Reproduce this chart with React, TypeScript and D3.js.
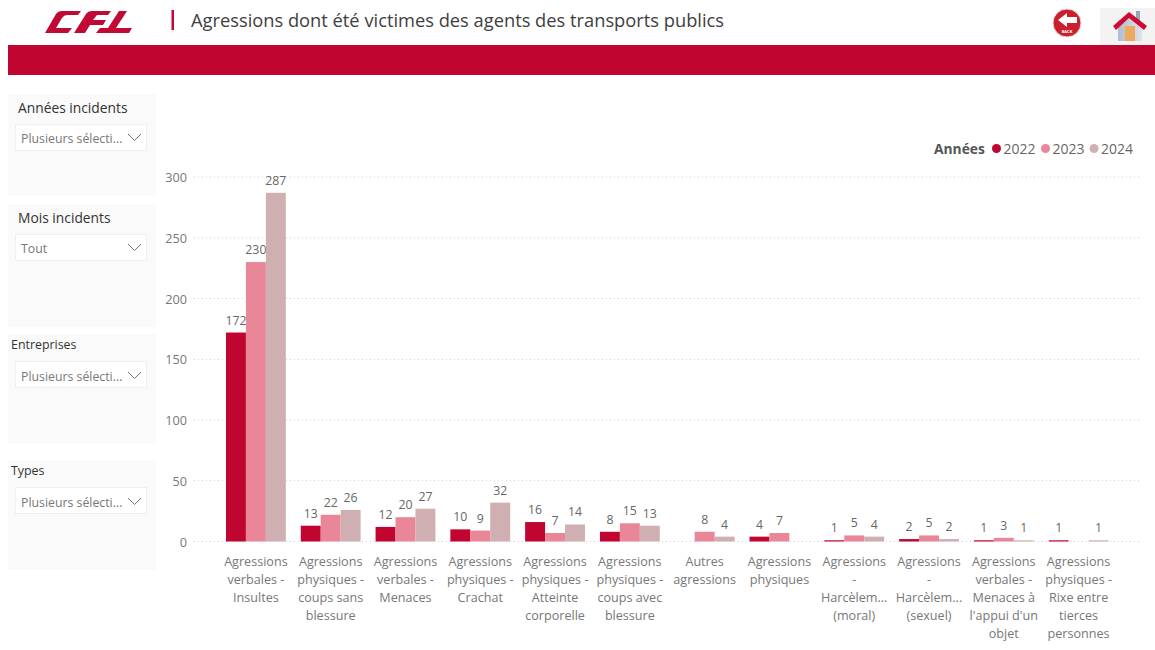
import React from 'react';
import * as d3 from 'd3';

const categories = [
  ['Agressions', 'verbales -', 'Insultes'],
  ['Agressions', 'physiques -', 'coups sans', 'blessure'],
  ['Agressions', 'verbales -', 'Menaces'],
  ['Agressions', 'physiques -', 'Crachat'],
  ['Agressions', 'physiques -', 'Atteinte', 'corporelle'],
  ['Agressions', 'physiques -', 'coups avec', 'blessure'],
  ['Autres', 'agressions'],
  ['Agressions', 'physiques'],
  ['Agressions', '-', 'Harcèlem...', '(moral)'],
  ['Agressions', '-', 'Harcèlem...', '(sexuel)'],
  ['Agressions', 'verbales -', 'Menaces à', "l'appui d'un", 'objet'],
  ['Agressions', 'physiques -', 'Rixe entre', 'tierces', 'personnes'],
];
const years = ['2022', '2023', '2024'];
const values2022 = [172, 13, 12, 10, 16, 8, null, 4, 1, 2, 1, 1];
const values2023 = [230, 22, 20, 9, 7, 15, 8, 7, 5, 5, 3, null];
const values2024 = [287, 26, 27, 32, 14, 13, 4, null, 4, 2, 1, 1];
const colors = ['#c00531', '#e98799', '#d0afb3'];
const yTicks = [0, 50, 100, 150, 200, 250, 300];
const slicers = [
  { title: 'Années incidents', value: 'Plusieurs sélecti...', y: 94, h: 102, big: true },
  { title: 'Mois incidents', value: 'Tout', y: 204, h: 123, big: true },
  { title: 'Entreprises', value: 'Plusieurs sélecti...', y: 334, h: 110, big: false },
  { title: 'Types', value: 'Plusieurs sélecti...', y: 460, h: 110, big: false },
];

const FONT = '"Open Sans", "Noto Sans", sans-serif';

export default function App() {
  const series = [values2022, values2023, values2024];
  const x = d3.scaleBand<number>().domain(categories.map((_, i) => i)).range([218.5, 1116]).paddingInner(0.2).paddingOuter(0.1);
  const x1 = d3.scaleBand<number>().domain([0, 1, 2]).range([0, x.bandwidth()]);
  const y = d3.scaleLinear().domain([0, 300]).range([541.5, 177]);
  const bw = x1.bandwidth();
  return (
    <svg width={1155} height={650} style={{ position: 'fixed', left: 0, top: 0, background: '#fff', fontFamily: FONT }}>
      <defs>
        <linearGradient id="wall" x1="0" x2="1" y1="0" y2="0">
          <stop offset="0" stopColor="#aebccd" />
          <stop offset="1" stopColor="#dfe4ea" />
        </linearGradient>
      </defs>
      {/* Header */}
      <g fill="#c00a35">
        <path d="M45 33 L56 14 Q58 11 62 11 L81 11 L78 15 L67 15 Q64 15 62 18 L56 28 L72 28 L68 33 Z" />
        <path d="M74 33 L86 14 Q88 11 92 11 L111 11 L108 15 L97 15 L93 20 L106 20 L103 25 L90 25 L85 33 Z" />
        <path d="M96 33 L100 28 L108 28 L119 11 L127 11 L116 28 L132 28 L129 33 Z" />
      </g>
      <rect x={171.5} y={10} width={2.5} height={20} fill="#c00a35" />
      <text x={191} y={26.5} fontSize={18.3} fill="#404040">Agressions dont été victimes des agents des transports publics</text>
      <circle cx={1067} cy={23} r={14} fill="#cb1f2d" stroke="#ddd" />
      <path d="M1058 20 L1067 13 L1067 17 L1077 17 L1077 23 L1067 23 L1067 27 Z" fill="#fff" />
      <text x={1067} y={33} fontSize={4} fill="#fff" textAnchor="middle" fontWeight="bold">BACK</text>
      <rect x={1100} y={8} width={55} height={37} fill="#f3f3f3" />
      <rect x={1136} y={11} width={4} height={9} fill="#9aa5b3" />
      <path d="M1118 26 L1130 16 L1142 26 L1142 41 L1118 41 Z" fill="url(#wall)" />
      <rect x={1125} y={26} width={10} height={15} fill="#eea95a" />
      <path d="M1113 26 L1129 12 L1147 26 L1144 30 L1129 18 L1116 30 Z" fill="#cf0a34" />
      <rect x={8} y={45} width={1147} height={30} fill="#c00531" />

      {/* Slicers */}
      {slicers.map(s => (
        <g key={s.title}>
          <rect x={8} y={s.y} width={148} height={s.h} fill="#fafafa" />
          <text x={s.big ? 18 : 11} y={s.y + (s.big ? 19 : 15)} fontSize={s.big ? 13.8 : 12.4} fill="#333">{s.title}</text>
          <rect x={15.5} y={s.y + (s.big ? 30.5 : 27.5)} width={131} height={26} fill="#fff" stroke="#efefef" />
          <text x={21} y={s.y + (s.big ? 49 : 47)} fontSize={12.3} fill="#777">{s.value}</text>
          <path d={`M128 ${s.y + (s.big ? 40 : 38)} l6.5 6.5 l6.5 -6.5`} fill="none" stroke="#777" />
        </g>
      ))}

      {/* Legend */}
      <text x={934} y={153.5} fontSize={13.8} fontWeight="bold" fill="#555">Années</text>
      {years.map((yr, i) => {
        const lx = [996.5, 1045.5, 1094][i];
        return (
          <g key={yr}>
            <circle cx={lx} cy={148.5} r={4.5} fill={colors[i]} />
            <text x={lx + 7} y={154} fontSize={14} fill="#666">{yr}</text>
          </g>
        );
      })}

      {/* Grid & y axis */}
      {yTicks.map(t => (
        <g key={t}>
          <line x1={194} x2={1139} y1={y(t)} y2={y(t)} stroke="#cfcfcf" strokeDasharray="1 3" />
          <text x={187} y={y(t) + 5} fontSize={12.7} fill="#777" textAnchor="end">{t}</text>
        </g>
      ))}

      {/* Bars */}
      {series.map((vals, si) => (
        <g key={si}>
          {vals.map((v, i) => v == null ? null : (
            <g key={i}>
              <rect x={x(i)! + x1(si)!} y={y(v)} width={bw} height={y(0) - y(v)} fill={colors[si]} />
              <text x={x(i)! + x1(si)! + bw / 2} y={y(v) - 8} fontSize={12.3} fill="#666" textAnchor="middle">{v}</text>
            </g>
          ))}
        </g>
      ))}

      {/* Category labels */}
      {categories.map((lines, i) => (
        <text key={i} fontSize={12.6} fill="#777" textAnchor="middle">
          {lines.map((l, j) => (
            <tspan key={j} x={x(i)! + x.bandwidth() / 2} y={566 + j * 18}>{l}</tspan>
          ))}
        </text>
      ))}
    </svg>
  );
}
